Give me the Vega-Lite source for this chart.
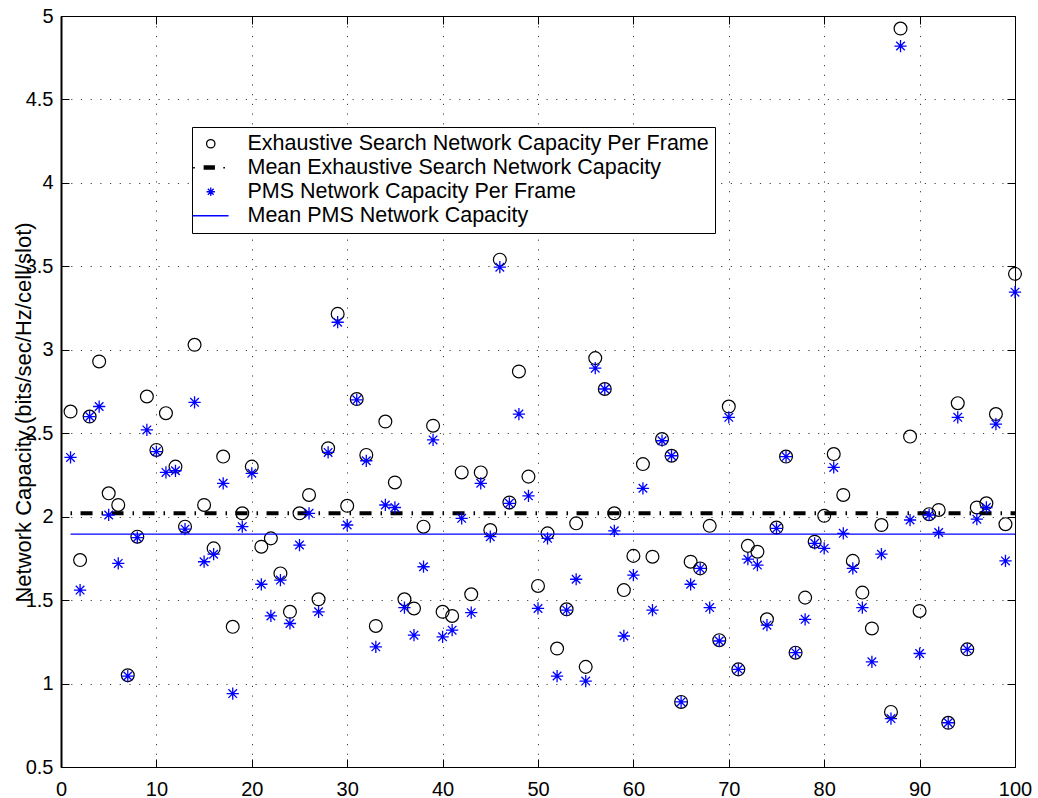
{
  "$schema": "https://vega.github.io/schema/vega-lite/v6.json",
  "width": 954,
  "height": 751,
  "autosize": "none",
  "padding": {"left": 61, "top": 16, "right": 23, "bottom": 31},
  "background": "white",
  "config": {
    "font": "Liberation Sans",
    "view": {"stroke": "black", "strokeWidth": 1},
    "axis": {"labelFont": "Liberation Sans", "titleFont": "Liberation Sans", "labelColor": "black", "tickColor": "black"}
  },
  "datasets": {
    "pts": [
      {"f":1,"s":"ES","v":2.63},{"f":2,"s":"ES","v":1.74},{"f":3,"s":"ES","v":2.60},{"f":4,"s":"ES","v":2.93},{"f":5,"s":"ES","v":2.14},
      {"f":6,"s":"ES","v":2.07},{"f":7,"s":"ES","v":1.05},{"f":8,"s":"ES","v":1.88},{"f":9,"s":"ES","v":2.72},{"f":10,"s":"ES","v":2.40},
      {"f":11,"s":"ES","v":2.62},{"f":12,"s":"ES","v":2.30},{"f":13,"s":"ES","v":1.94},{"f":14,"s":"ES","v":3.03},{"f":15,"s":"ES","v":2.07},
      {"f":16,"s":"ES","v":1.81},{"f":17,"s":"ES","v":2.36},{"f":18,"s":"ES","v":1.34},{"f":19,"s":"ES","v":2.02},{"f":20,"s":"ES","v":2.30},
      {"f":21,"s":"ES","v":1.82},{"f":22,"s":"ES","v":1.87},{"f":23,"s":"ES","v":1.66},{"f":24,"s":"ES","v":1.43},{"f":25,"s":"ES","v":2.02},
      {"f":26,"s":"ES","v":2.13},{"f":27,"s":"ES","v":1.505},{"f":28,"s":"ES","v":2.41},{"f":29,"s":"ES","v":3.215},{"f":30,"s":"ES","v":2.065},
      {"f":31,"s":"ES","v":2.705},{"f":32,"s":"ES","v":2.37},{"f":33,"s":"ES","v":1.345},{"f":34,"s":"ES","v":2.57},{"f":35,"s":"ES","v":2.205},
      {"f":36,"s":"ES","v":1.505},{"f":37,"s":"ES","v":1.45},{"f":38,"s":"ES","v":1.94},{"f":39,"s":"ES","v":2.545},{"f":40,"s":"ES","v":1.43},
      {"f":41,"s":"ES","v":1.405},{"f":42,"s":"ES","v":2.265},{"f":43,"s":"ES","v":1.535},{"f":44,"s":"ES","v":2.265},{"f":45,"s":"ES","v":1.92},
      {"f":46,"s":"ES","v":3.54},{"f":47,"s":"ES","v":2.085},{"f":48,"s":"ES","v":2.87},{"f":49,"s":"ES","v":2.24},{"f":50,"s":"ES","v":1.585},
      {"f":51,"s":"ES","v":1.90},{"f":52,"s":"ES","v":1.21},{"f":53,"s":"ES","v":1.445},{"f":54,"s":"ES","v":1.96},{"f":55,"s":"ES","v":1.10},
      {"f":56,"s":"ES","v":2.95},{"f":57,"s":"ES","v":2.765},{"f":58,"s":"ES","v":2.02},{"f":59,"s":"ES","v":1.56},{"f":60,"s":"ES","v":1.765},
      {"f":61,"s":"ES","v":2.315},{"f":62,"s":"ES","v":1.76},{"f":63,"s":"ES","v":2.465},{"f":64,"s":"ES","v":2.365},{"f":65,"s":"ES","v":0.89},
      {"f":66,"s":"ES","v":1.73},{"f":67,"s":"ES","v":1.69},{"f":68,"s":"ES","v":1.945},{"f":69,"s":"ES","v":1.26},{"f":70,"s":"ES","v":2.66},
      {"f":71,"s":"ES","v":1.085},{"f":72,"s":"ES","v":1.825},{"f":73,"s":"ES","v":1.79},{"f":74,"s":"ES","v":1.385},{"f":75,"s":"ES","v":1.935},
      {"f":76,"s":"ES","v":2.36},{"f":77,"s":"ES","v":1.185},{"f":78,"s":"ES","v":1.515},{"f":79,"s":"ES","v":1.85},{"f":80,"s":"ES","v":2.005},
      {"f":81,"s":"ES","v":2.375},{"f":82,"s":"ES","v":2.13},{"f":83,"s":"ES","v":1.735},{"f":84,"s":"ES","v":1.545},{"f":85,"s":"ES","v":1.33},
      {"f":86,"s":"ES","v":1.95},{"f":87,"s":"ES","v":0.83},{"f":88,"s":"ES","v":4.925},{"f":89,"s":"ES","v":2.48},{"f":90,"s":"ES","v":1.435},
      {"f":91,"s":"ES","v":2.015},{"f":92,"s":"ES","v":2.04},{"f":93,"s":"ES","v":0.765},{"f":94,"s":"ES","v":2.68},{"f":95,"s":"ES","v":1.205},
      {"f":96,"s":"ES","v":2.055},{"f":97,"s":"ES","v":2.08},{"f":98,"s":"ES","v":2.615},{"f":99,"s":"ES","v":1.955},{"f":100,"s":"ES","v":3.455},
      {"f":1,"s":"PMS","v":2.355},{"f":2,"s":"PMS","v":1.56},{"f":3,"s":"PMS","v":2.60},{"f":4,"s":"PMS","v":2.66},{"f":5,"s":"PMS","v":2.01},
      {"f":6,"s":"PMS","v":1.72},{"f":7,"s":"PMS","v":1.045},{"f":8,"s":"PMS","v":1.875},{"f":9,"s":"PMS","v":2.52},{"f":10,"s":"PMS","v":2.39},
      {"f":11,"s":"PMS","v":2.265},{"f":12,"s":"PMS","v":2.275},{"f":13,"s":"PMS","v":1.925},{"f":14,"s":"PMS","v":2.685},{"f":15,"s":"PMS","v":1.73},
      {"f":16,"s":"PMS","v":1.775},{"f":17,"s":"PMS","v":2.20},{"f":18,"s":"PMS","v":0.94},{"f":19,"s":"PMS","v":1.94},{"f":20,"s":"PMS","v":2.26},
      {"f":21,"s":"PMS","v":1.595},{"f":22,"s":"PMS","v":1.405},{"f":23,"s":"PMS","v":1.62},{"f":24,"s":"PMS","v":1.36},{"f":25,"s":"PMS","v":1.83},
      {"f":26,"s":"PMS","v":2.02},{"f":27,"s":"PMS","v":1.43},{"f":28,"s":"PMS","v":2.385},{"f":29,"s":"PMS","v":3.165},{"f":30,"s":"PMS","v":1.95},
      {"f":31,"s":"PMS","v":2.70},{"f":32,"s":"PMS","v":2.335},{"f":33,"s":"PMS","v":1.22},{"f":34,"s":"PMS","v":2.07},{"f":35,"s":"PMS","v":2.055},
      {"f":36,"s":"PMS","v":1.455},{"f":37,"s":"PMS","v":1.29},{"f":38,"s":"PMS","v":1.70},{"f":39,"s":"PMS","v":2.46},{"f":40,"s":"PMS","v":1.28},
      {"f":41,"s":"PMS","v":1.32},{"f":42,"s":"PMS","v":1.99},{"f":43,"s":"PMS","v":1.425},{"f":44,"s":"PMS","v":2.20},{"f":45,"s":"PMS","v":1.88},
      {"f":46,"s":"PMS","v":3.495},{"f":47,"s":"PMS","v":2.08},{"f":48,"s":"PMS","v":2.615},{"f":49,"s":"PMS","v":2.125},{"f":50,"s":"PMS","v":1.45},
      {"f":51,"s":"PMS","v":1.87},{"f":52,"s":"PMS","v":1.045},{"f":53,"s":"PMS","v":1.44},{"f":54,"s":"PMS","v":1.625},{"f":55,"s":"PMS","v":1.015},
      {"f":56,"s":"PMS","v":2.89},{"f":57,"s":"PMS","v":2.765},{"f":58,"s":"PMS","v":1.915},{"f":59,"s":"PMS","v":1.285},{"f":60,"s":"PMS","v":1.65},
      {"f":61,"s":"PMS","v":2.17},{"f":62,"s":"PMS","v":1.44},{"f":63,"s":"PMS","v":2.455},{"f":64,"s":"PMS","v":2.365},{"f":65,"s":"PMS","v":0.89},
      {"f":66,"s":"PMS","v":1.595},{"f":67,"s":"PMS","v":1.69},{"f":68,"s":"PMS","v":1.455},{"f":69,"s":"PMS","v":1.255},{"f":70,"s":"PMS","v":2.595},
      {"f":71,"s":"PMS","v":1.085},{"f":72,"s":"PMS","v":1.745},{"f":73,"s":"PMS","v":1.71},{"f":74,"s":"PMS","v":1.35},{"f":75,"s":"PMS","v":1.93},
      {"f":76,"s":"PMS","v":2.36},{"f":77,"s":"PMS","v":1.185},{"f":78,"s":"PMS","v":1.385},{"f":79,"s":"PMS","v":1.84},{"f":80,"s":"PMS","v":1.81},
      {"f":81,"s":"PMS","v":2.295},{"f":82,"s":"PMS","v":1.90},{"f":83,"s":"PMS","v":1.69},{"f":84,"s":"PMS","v":1.455},{"f":85,"s":"PMS","v":1.13},
      {"f":86,"s":"PMS","v":1.775},{"f":87,"s":"PMS","v":0.79},{"f":88,"s":"PMS","v":4.82},{"f":89,"s":"PMS","v":1.98},{"f":90,"s":"PMS","v":1.18},
      {"f":91,"s":"PMS","v":2.01},{"f":92,"s":"PMS","v":1.905},{"f":93,"s":"PMS","v":0.765},{"f":94,"s":"PMS","v":2.595},{"f":95,"s":"PMS","v":1.205},
      {"f":96,"s":"PMS","v":1.985},{"f":97,"s":"PMS","v":2.055},{"f":98,"s":"PMS","v":2.555},{"f":99,"s":"PMS","v":1.735},{"f":100,"s":"PMS","v":3.345}
    ],
    "means": [
      {"s":"ESmean","v":2.02,"from":1,"to":100},
      {"s":"PMSmean","v":1.895,"from":1,"to":100}
    ]
  },
  "layer": [
    {
      "data": {"name": "pts"},
      "transform": [{"filter": "datum.s === 'ES'"}],
      "mark": {"type": "point", "filled": false, "size": 165, "strokeWidth": 1.2, "opacity": 1},
      "encoding": {
        "x": {"field": "f", "type": "quantitative", "scale": {"domain": [0, 100], "nice": false, "zero": false},
          "axis": {"orient": "bottom", "values": [0,10,20,30,40,50,60,70,80,90,100], "format": "d", "title": null,
            "grid": true, "gridColor": "#000", "gridOpacity": 0.75, "gridDash": [1.2, 8.5], "gridWidth": 1,
            "domain": false, "ticks": true, "tickSize": -8, "tickWidth": 1, "tickColor": "black",
            "labelFontSize": 20, "labelPadding": 20, "labelFlush": false, "labelOverlap": false, "labelBound": false}},
        "y": {"field": "v", "type": "quantitative", "scale": {"domain": [0.5, 5], "nice": false, "zero": false},
          "axis": {"orient": "left", "values": [0.5,1,1.5,2,2.5,3,3.5,4,4.5,5], "format": "~g",
            "title": "Network Capacity (bits/sec/Hz/cell/slot)", "titleFontSize": 22, "titleFontWeight": "normal", "titleColor": "black",
            "titleAngle": 270, "titleX": -38, "titleY": 396, "titleAlign": "center", "titleBaseline": "middle",
            "grid": true, "gridColor": "#000", "gridOpacity": 0.75, "gridDash": [1.2, 8.5], "gridWidth": 1,
            "domain": true, "domainColor": "black", "domainWidth": 2, "ticks": true, "tickSize": -8, "tickWidth": 1, "tickColor": "black",
            "labelFontSize": 20, "labelPadding": 16, "labelFlush": false, "labelOverlap": false, "labelBound": false}},
        "color": {"field": "s", "type": "nominal",
          "scale": {"domain": ["ES", "ESmean", "PMS", "PMSmean"], "range": ["#000000", "#000000", "#0000ff", "#0000ff"]},
          "legend": {"orient": "none", "legendX": 131, "legendY": 111, "title": null, "direction": "vertical",
            "labelFont": "Liberation Sans", "labelFontSize": 21.5, "labelColor": "black", "labelLimit": 0,
            "labelExpr": "datum.label === 'ES' ? 'Exhaustive Search Network Capacity Per Frame' : datum.label === 'ESmean' ? 'Mean Exhaustive Search Network Capacity' : datum.label === 'PMS' ? 'PMS Network Capacity Per Frame' : 'Mean PMS Network Capacity'",
            "symbolSize": 70, "symbolStrokeWidth": 1.3, "symbolOffset": 2, "labelOffset": 26, "rowPadding": 1,
            "strokeColor": "black", "fillColor": "white", "padding": 6}},
        "shape": {"field": "s", "type": "nominal",
          "scale": {"domain": ["ES", "ESmean", "PMS", "PMSmean"],
            "range": ["circle", "M-4.2,0H-3.8M-1.7,-0.45H1M-1.7,-0.25H1M-1.7,-0.05H1M-1.7,0.15H1M-1.7,0.35H1M3,0H3.4", "M-1,0H1M0,-1V1M-0.7,-0.7L0.7,0.7M-0.7,0.7L0.7,-0.7", "M-4.25,0H4.25"]},
          "legend": {"orient": "none", "legendX": 131, "legendY": 111, "title": null, "direction": "vertical",
            "labelFont": "Liberation Sans", "labelFontSize": 21.5, "labelColor": "black", "labelLimit": 0,
            "labelExpr": "datum.label === 'ES' ? 'Exhaustive Search Network Capacity Per Frame' : datum.label === 'ESmean' ? 'Mean Exhaustive Search Network Capacity' : datum.label === 'PMS' ? 'PMS Network Capacity Per Frame' : 'Mean PMS Network Capacity'",
            "symbolSize": 70, "symbolStrokeWidth": 1.3, "symbolOffset": 2, "labelOffset": 26, "rowPadding": 1,
            "strokeColor": "black", "fillColor": "white", "padding": 6}}
      }
    },
    {
      "data": {"name": "means"},
      "transform": [{"filter": "datum.s === 'ESmean'"}],
      "mark": {"type": "rule", "strokeWidth": 4, "strokeDash": [1.5, 8.5, 12, 9], "strokeCap": "butt"},
      "encoding": {
        "x": {"field": "from", "type": "quantitative", "scale": {"domain": [0, 100], "nice": false, "zero": false},
          "axis": {"orient": "top", "values": [0,10,20,30,40,50,60,70,80,90,100], "labels": false, "title": null, "grid": false, "domain": false, "ticks": true, "tickSize": -8, "tickColor": "black"}},
        "x2": {"field": "to"},
        "y": {"field": "v", "type": "quantitative", "scale": {"domain": [0.5, 5], "nice": false, "zero": false},
          "axis": {"orient": "right", "values": [0.5,1,1.5,2,2.5,3,3.5,4,4.5,5], "labels": false, "title": null, "grid": false, "domain": false, "ticks": true, "tickSize": -8, "tickColor": "black"}},
        "color": {"field": "s", "type": "nominal", "scale": {"domain": ["ES", "ESmean", "PMS", "PMSmean"], "range": ["#000000", "#000000", "#0000ff", "#0000ff"]}}
      }
    },
    {
      "data": {"name": "pts"},
      "transform": [{"filter": "datum.s === 'PMS'"}],
      "mark": {"type": "point", "filled": false, "size": 150, "strokeWidth": 1.3, "opacity": 1},
      "encoding": {
        "x": {"field": "f", "type": "quantitative", "scale": {"domain": [0, 100], "nice": false, "zero": false}, "axis": null},
        "y": {"field": "v", "type": "quantitative", "scale": {"domain": [0.5, 5], "nice": false, "zero": false}, "axis": null},
        "color": {"field": "s", "type": "nominal", "scale": {"domain": ["ES", "ESmean", "PMS", "PMSmean"], "range": ["#000000", "#000000", "#0000ff", "#0000ff"]}},
        "shape": {"field": "s", "type": "nominal",
          "scale": {"domain": ["ES", "ESmean", "PMS", "PMSmean"],
            "range": ["circle", "M-4.2,0H-3.8M-1.7,-0.45H1M-1.7,-0.25H1M-1.7,-0.05H1M-1.7,0.15H1M-1.7,0.35H1M3,0H3.4", "M-1,0H1M0,-1V1M-0.7,-0.7L0.7,0.7M-0.7,0.7L0.7,-0.7", "M-4.25,0H4.25"]}}
      }
    },
    {
      "data": {"name": "means"},
      "transform": [{"filter": "datum.s === 'PMSmean'"}],
      "mark": {"type": "rule", "strokeWidth": 1.3},
      "encoding": {
        "x": {"field": "from", "type": "quantitative", "scale": {"domain": [0, 100], "nice": false, "zero": false}, "axis": null},
        "x2": {"field": "to"},
        "y": {"field": "v", "type": "quantitative", "scale": {"domain": [0.5, 5], "nice": false, "zero": false}, "axis": null},
        "color": {"field": "s", "type": "nominal", "scale": {"domain": ["ES", "ESmean", "PMS", "PMSmean"], "range": ["#000000", "#000000", "#0000ff", "#0000ff"]}}
      }
    }
  ],
  "resolve": {"axis": {"x": "independent", "y": "independent"}}
}
